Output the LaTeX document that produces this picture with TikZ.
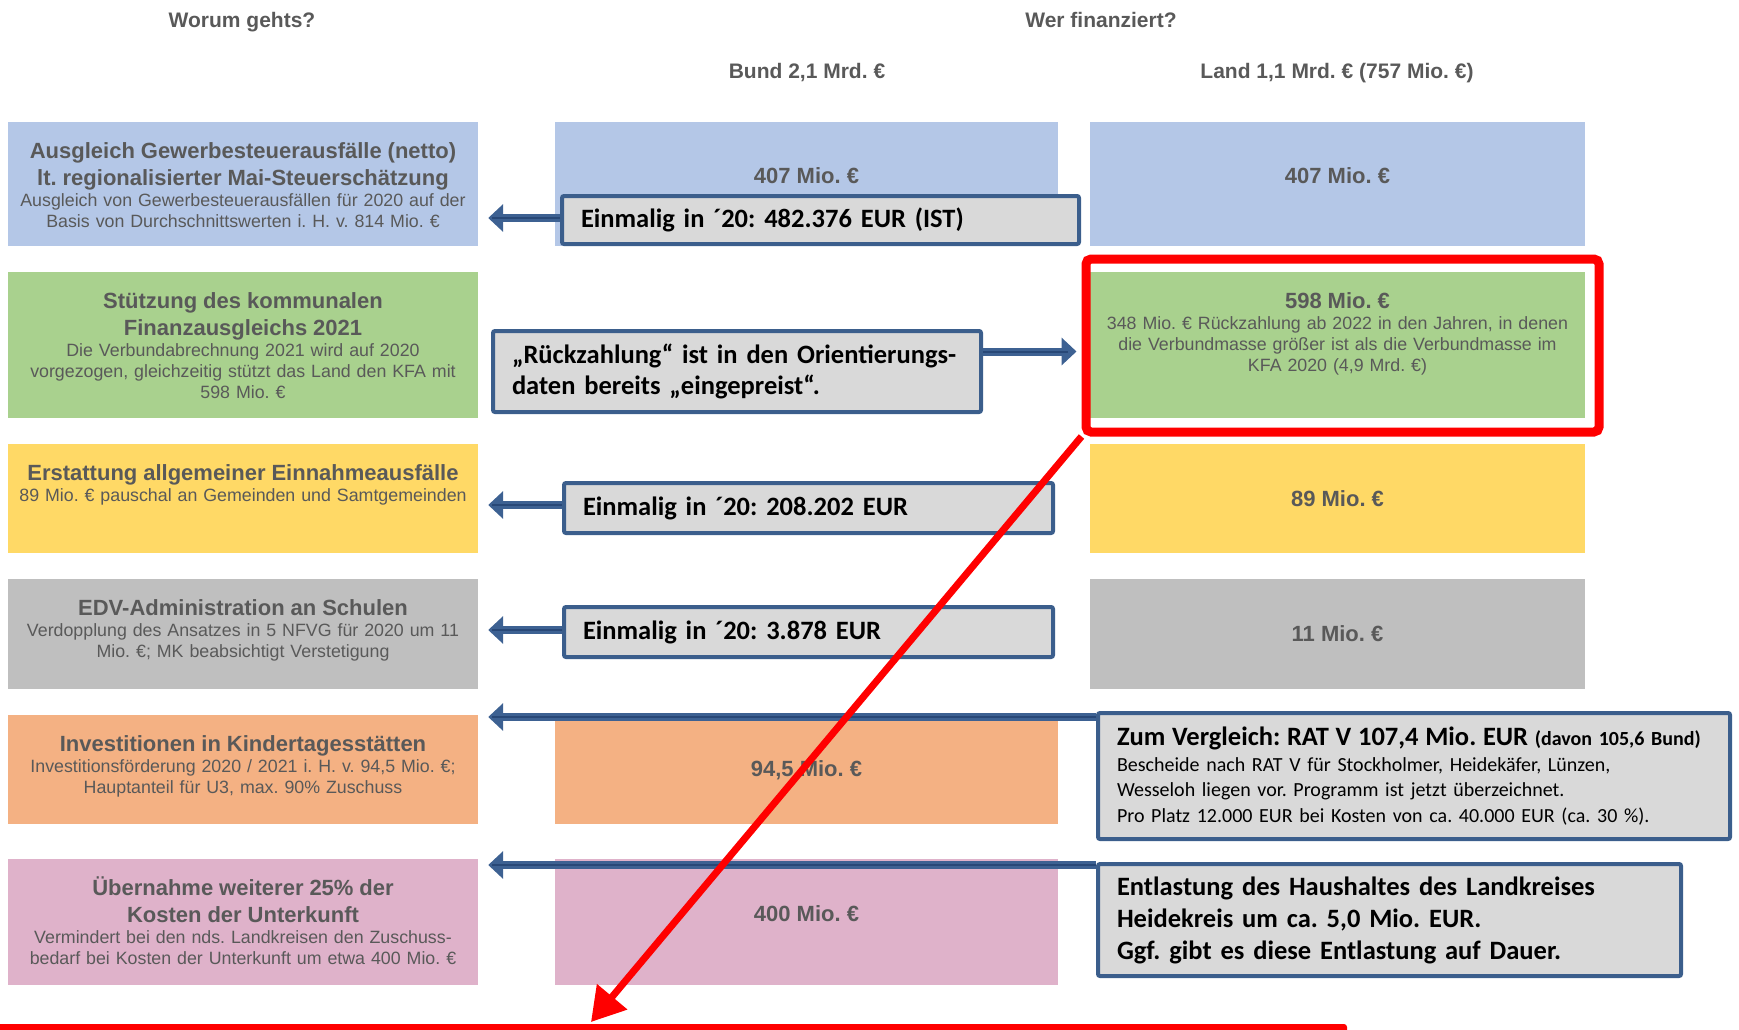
\documentclass[tikz,border=0pt]{standalone}
\usepackage{fontspec}
\setmainfont{Liberation Sans}
\newfontfamily\calib{Carlito}
\usetikzlibrary{arrows.meta}
\frenchspacing

\definecolor{cellblue}{HTML}{B4C7E7}
\definecolor{cellgreen}{HTML}{A9D18E}
\definecolor{cellyellow}{HTML}{FFD966}
\definecolor{cellgray}{HTML}{BFBFBF}
\definecolor{cellorange}{HTML}{F4B183}
\definecolor{cellpink}{HTML}{DFB2CA}
\definecolor{txtgray}{HTML}{595959}
\definecolor{boxfill}{HTML}{D9D9D9}
\definecolor{boxline}{HTML}{3B5E8C}
\definecolor{arrowblue}{HTML}{3D6192}
\definecolor{arrowdark}{HTML}{284877}
\definecolor{markred}{HTML}{FF0000}

\newcommand{\cellhead}{\fontsize{22}{26.5}\selectfont\bfseries}
\newcommand{\cellsub}{\fontsize{17.8}{21}\selectfont\mdseries}

\tikzset{
    head/.style={anchor=base, text=txtgray, font=\fontsize{21}{25}\selectfont\bfseries},
    cell/.style={fill=#1, inner sep=0pt},
    celltext/.style={anchor=north, inner sep=0pt, align=center, text width=465pt, text=txtgray, font=\cellsub},
    value/.style={text=txtgray, font=\cellhead},
    callout/.style={draw=boxline, fill=boxfill, line width=4pt, rounded corners=2pt, inner xsep=19pt, inner ysep=0pt, align=left, font=\calib\bfseries\fontsize{26.5}{31}\selectfont},
    flow/.style={draw=arrowblue, line width=8pt, -{Triangle[width=27pt,length=15pt]}, postaction={draw=arrowdark, line width=2pt, -, shorten >=14pt}},
    redarrow/.style={draw=markred, line width=7pt, -{Triangle[width=38pt,length=33pt]}}
}

\begin{document}
\begin{tikzpicture}[x=1pt, y=-1pt]
    \useasboundingbox (0,0) rectangle (1739,1030);

    \node[head] (worum) at (242,28) {Worum gehts?};
    \node[head] (wer) at (1101,28) {Wer finanziert?};
    \node[head] (bund) at (807,79) {Bund 2,1 Mrd. €};
    \node[head] (land) at (1337,79) {Land 1,1 Mrd. € (757 Mio. €)};

    % left column
    \node[cell=cellblue, minimum width=470pt, minimum height=124pt] (l1) at (243,184) {};
    \node[cell=cellgreen, minimum width=470pt, minimum height=146pt] (l2) at (243,345) {};
    \node[cell=cellyellow, minimum width=470pt, minimum height=109pt] (l3) at (243,498.5) {};
    \node[cell=cellgray, minimum width=470pt, minimum height=110pt] (l4) at (243,634) {};
    \node[cell=cellorange, minimum width=470pt, minimum height=109pt] (l5) at (243,769.5) {};
    \node[cell=cellpink, minimum width=470pt, minimum height=126pt] (l6) at (243,922) {};

    \node[celltext] (t1) at (243,140) {\cellhead\strut Ausgleich Gewerbesteuerausfälle (netto)\\ lt. regionalisierter Mai-Steuerschätzung\par
        \cellsub Ausgleich von Gewerbesteuerausfällen für 2020 auf der\\ Basis von Durchschnittswerten i. H. v. 814 Mio. €};
    \node[celltext] (t2) at (243,290) {\cellhead\strut Stützung des kommunalen\\ Finanzausgleichs 2021\par
        \cellsub Die Verbundabrechnung 2021 wird auf 2020\\ vorgezogen, gleichzeitig stützt das Land den KFA mit\\ 598 Mio. €};
    \node[celltext] (t3) at (243,462) {\cellhead\strut Erstattung allgemeiner Einnahmeausfälle\par
        \cellsub 89 Mio. € pauschal an Gemeinden und Samtgemeinden};
    \node[celltext] (t4) at (243,597) {\cellhead\strut EDV-Administration an Schulen\par
        \cellsub Verdopplung des Ansatzes in 5 NFVG für 2020 um 11\\ Mio. €; MK beabsichtigt Verstetigung};
    \node[celltext] (t5) at (243,733) {\cellhead\strut Investitionen in Kindertagesstätten\par
        \cellsub Investitionsförderung 2020 / 2021 i. H. v. 94,5 Mio. €;\\ Hauptanteil für U3, max. 90\% Zuschuss};
    \node[celltext] (t6) at (243,877) {\cellhead\strut Übernahme weiterer 25\% der\\ Kosten der Unterkunft\par
        \cellsub Vermindert bei den nds. Landkreisen den Zuschuss-\\ bedarf bei Kosten der Unterkunft um etwa 400 Mio. €};

    % Bund
    \node[cell=cellblue, minimum width=503pt, minimum height=124pt] (b1) at (806.5,184) {};
    \node[cell=cellorange, minimum width=503pt, minimum height=109pt] (b5) at (806.5,769.5) {};
    \node[cell=cellpink, minimum width=503pt, minimum height=126pt] (b6) at (806.5,922) {};
    \node[value] (bv1) at (806.5,176) {407 Mio. €};
    \node[value] (bv5) at (806.5,770) {94,5 Mio. €};
    \node[value] (bv6) at (806.5,914) {400 Mio. €};

    % Land
    \node[cell=cellblue, minimum width=495pt, minimum height=124pt] (n1) at (1337.5,184) {};
    \node[cell=cellgreen, minimum width=495pt, minimum height=146pt] (n2) at (1337.5,345) {};
    \node[cell=cellyellow, minimum width=495pt, minimum height=109pt] (n3) at (1337.5,498.5) {};
    \node[cell=cellgray, minimum width=495pt, minimum height=110pt] (n4) at (1337.5,634) {};
    \node[value] (nv1) at (1337.5,176) {407 Mio. €};
    \node[celltext, text width=492pt] (nv2) at (1337.5,290) {\cellhead\strut 598 Mio. €\par
        \cellsub 348 Mio. € Rückzahlung ab 2022 in den Jahren, in denen\\ die Verbundmasse größer ist als die Verbundmasse im\\ KFA 2020 (4,9 Mrd. €)};
    \node[value] (nv3) at (1337.5,499) {89 Mio. €};
    \node[value] (nv4) at (1337.5,634) {11 Mio. €};

    \node[draw=markred, line width=9pt, rounded corners=5pt, minimum width=513pt, minimum height=173pt, inner sep=0pt] (frame) at (1342.5,345.5) {};

    % callouts
    \node[callout, text width=479pt, minimum height=48pt] (c1) at (820.5,220) {Einmalig in ´20: 482.376 EUR (IST)};
    \node[callout, text width=450pt, minimum height=81pt] (c2) at (737,371.5) {„Rückzahlung“ ist in den Orientierungs-\\ daten bereits „eingepreist“.};
    \node[callout, text width=451pt, minimum height=50pt] (c3) at (808.5,508) {Einmalig in ´20: 208.202 EUR};
    \node[callout, text width=451pt, minimum height=50pt] (c4) at (808.5,632) {Einmalig in ´20: 3.878 EUR};
    \node[callout, text width=594pt, minimum height=126pt, font=\calib\bfseries\fontsize{20}{25.5}\selectfont] (c5) at (1414,776)
        {\mbox{{\fontsize{26.5}{26.5}\selectfont Zum Vergleich: RAT V 107,4 Mio. EUR} (davon 105,6 Bund)}\\
        \mdseries Bescheide nach RAT V für Stockholmer, Heidekäfer, Lünzen,\\ Wesseloh liegen vor. Programm ist jetzt überzeichnet.\\ Pro Platz 12.000 EUR bei Kosten von ca. 40.000 EUR (ca. 30~\%).};
    \node[callout, text width=545pt, minimum height=112pt, font=\calib\bfseries\fontsize{26.5}{32}\selectfont] (c6) at (1389.5,920)
        {Entlastung des Haushaltes des Landkreises\\ Heidekreis um ca. 5,0 Mio. EUR.\\ Ggf. gibt es diese Entlastung auf Dauer.};

    \draw[flow, shorten >=10pt] ([yshift=2pt]c1.west) -- ([yshift=2pt]c1.west -| l1.east);
    \draw[flow, shorten >=5pt] ([yshift=20pt]c2.east) -- ([yshift=20pt]c2.east -| frame.west);
    \draw[flow, shorten >=10pt] ([yshift=3pt]c3.west) -- ([yshift=3pt]c3.west -| l3.east);
    \draw[flow, shorten >=10pt] ([yshift=2pt]c4.west) -- ([yshift=2pt]c4.west -| l4.east);
    \draw[flow, shorten >=10pt] ([yshift=-6pt]c5.north west) -- ([yshift=-6pt]c5.north west -| l5.east);
    \draw[flow, shorten >=10pt] ([yshift=-3pt]c6.north west) -- ([yshift=-3pt]c6.north west -| l6.east);

    \coordinate (redtip) at (591,1022);
    \draw[redarrow] (frame.south west) -- (redtip);
    \fill[markred, rounded corners=3pt] (-10,1024) rectangle (1347,1045);
\end{tikzpicture}
\end{document}
